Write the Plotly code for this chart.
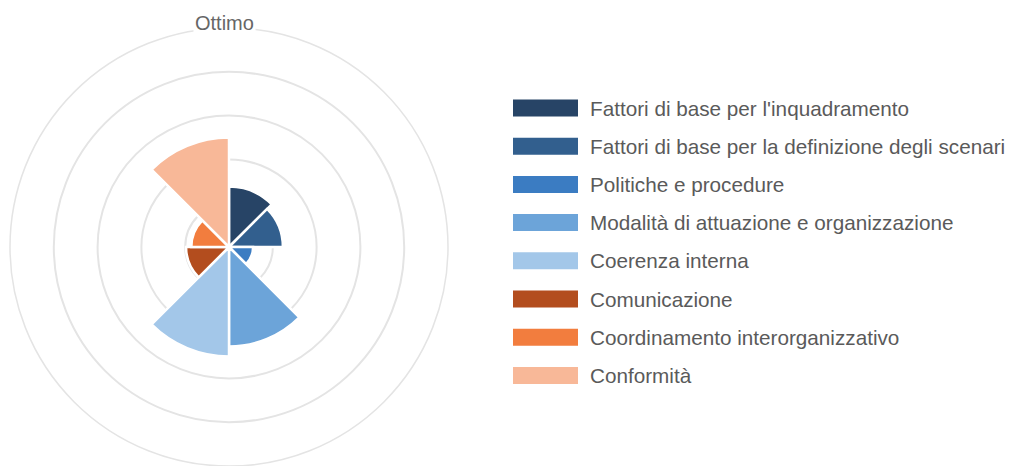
import plotly.graph_objects as go

# Categories, scores (0-5 scale, 5 = "Ottimo") and colours
categories = [
    "Fattori di base per l'inquadramento",
    "Fattori di base per la definizione degli scenari",
    "Politiche e procedure",
    "Modalità di attuazione e organizzazione",
    "Coerenza interna",
    "Comunicazione",
    "Coordinamento interorganizzativo",
    "Conformità",
]
scores = [1.38, 1.23, 0.55, 2.27, 2.5, 0.98, 0.86, 2.5]
colors = ["#274466", "#325f8e", "#3b7cc2", "#6ca4d9", "#a3c7e9",
          "#b34d1e", "#f27d3e", "#f8b898"]
ring_values = [1, 2, 3, 4, 5]
ring_labels = ["", "", "", "", "Ottimo"]

W, H = 1012, 466
sector = 360 / len(categories)
grid_col = "#e4e4e4"

fig = go.Figure()
for i, (name, val, col) in enumerate(zip(categories, scores, colors)):
    fig.add_trace(go.Barpolar(
        r=[val],
        theta=[sector * i + sector / 2],
        width=[sector],
        name=name,
        marker=dict(color=col, line=dict(color="white", width=2.5)),
        showlegend=False,
    ))

# Polar area: centre ~ (229, 247) px, outer ring radius ~219 px
cx, cy, rad = 229, 247, 219
fig.update_layout(
    width=W, height=H, autosize=False,
    margin=dict(l=0, r=0, t=0, b=0),
    paper_bgcolor="white",
    plot_bgcolor="white",
    polar=dict(
        domain=dict(x=[(cx - rad) / W, (cx + rad) / W],
                    y=[1 - (cy + rad) / H, 1 - (cy - rad) / H]),
        bgcolor="white",
        angularaxis=dict(direction="clockwise", rotation=90,
                         showticklabels=False, showgrid=False,
                         showline=True, linecolor=grid_col, linewidth=1.5,
                         ticks=""),
        radialaxis=dict(range=[0, 5], tickvals=ring_values,
                        ticktext=ring_labels, showticklabels=False,
                        showline=False, ticks="",
                        gridcolor=grid_col, gridwidth=1.5),
    ),
    bargap=0,
)

# Label on the outer ring
fig.add_annotation(
    x=224 / W, y=1 - 23 / H, xref="paper", yref="paper",
    text=ring_labels[-1], showarrow=False,
    font=dict(family="Liberation Sans, Arial", size=20, color="#666666"),
    bgcolor="white", xanchor="center", yanchor="middle",
    borderpad=1,
)

# Legend drawn as wide swatches with labels
top, step = 108, 38.2
for i, (name, col) in enumerate(zip(categories, colors)):
    yc = top + i * step
    fig.add_shape(type="rect", xref="paper", yref="paper",
                  x0=513 / W, x1=578 / W,
                  y0=1 - (yc + 8.5) / H, y1=1 - (yc - 8.5) / H,
                  fillcolor=col, line=dict(width=0))
    fig.add_annotation(
        x=588 / W, y=1 - yc / H, xref="paper", yref="paper",
        text=name, showarrow=False, xanchor="left", yanchor="middle",
        font=dict(family="Liberation Sans, Arial", size=20.7, color="#5a5a5a"),
    )

fig.write_html("out.html")
